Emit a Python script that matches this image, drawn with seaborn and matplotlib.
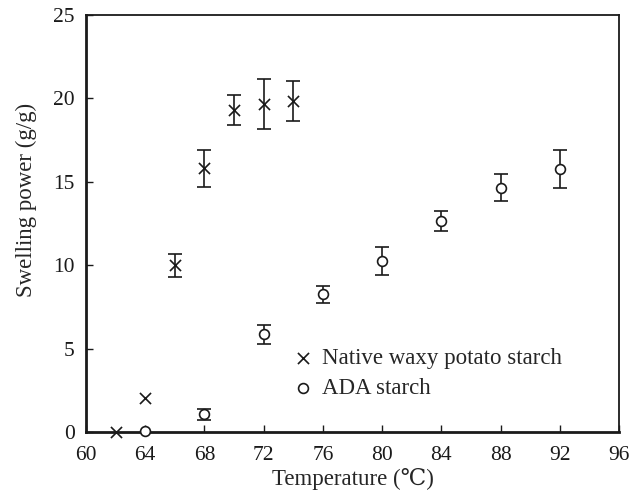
import pandas as pd
import seaborn as sns
import matplotlib.pyplot as plt

native_temp = [62, 64, 66, 68, 70, 72, 74]
native_sp = [0.0, 2.05, 10.0, 15.8, 19.3, 19.65, 19.85]
native_err = [0.0, 0.0, 0.7, 1.1, 0.9, 1.5, 1.2]

ada_temp = [64, 68, 72, 76, 80, 84, 88, 92]
ada_sp = [0.05, 1.05, 5.85, 8.25, 10.25, 12.65, 14.65, 15.75]
ada_err = [0.0, 0.35, 0.55, 0.5, 0.85, 0.6, 0.8, 1.15]

labels = ["Native waxy potato starch", "ADA starch"]

INK = "#1a1a1a"


def main():
    sns.set_style("ticks")
    plt.rcParams["font.family"] = ["Liberation Serif", "DejaVu Serif"]

    native = pd.DataFrame({"Temperature": native_temp, "SP": native_sp, "err": native_err})
    ada = pd.DataFrame({"Temperature": ada_temp, "SP": ada_sp, "err": ada_err})

    fig = plt.figure(figsize=(6.41, 4.94), dpi=100)
    ax = fig.add_axes([0.1342, 0.1255, 0.8315, 0.8441])

    # error bars first (only where there is one), markers on top
    for sub in (native, ada):
        sub = sub[sub["err"] > 0]
        ax.errorbar(sub["Temperature"], sub["SP"], yerr=sub["err"], fmt="none",
                    ecolor=INK, elinewidth=1.2, capsize=5, capthick=1.2, zorder=2)

    sns.scatterplot(data=native, x="Temperature", y="SP", marker="x", color=INK,
                    s=64, linewidth=1.2, ax=ax, zorder=3, clip_on=False, label=labels[0])
    sns.scatterplot(data=ada, x="Temperature", y="SP", marker="o", facecolor="white",
                    edgecolor=INK, s=50, linewidth=1.2, ax=ax, zorder=3,
                    clip_on=False, label=labels[1])

    ax.legend(loc="upper left", bbox_to_anchor=(0.386, 0.201), borderaxespad=0,
              borderpad=0, frameon=False, fontsize=16.5, handlelength=1.0,
              handletextpad=0.3, labelspacing=0.37)

    ax.set_xlim(60, 96)
    ax.set_ylim(0, 25)
    ax.set_xticks(range(60, 97, 4))
    ax.set_yticks(range(0, 26, 5))
    ax.tick_params(direction="in", length=5, width=1, labelsize=15.5, colors=INK,
                   top=False, right=False)
    ax.tick_params(axis="x", pad=10)
    ax.tick_params(axis="y", pad=8)
    for s in ax.spines.values():
        s.set_linewidth(1.3)
        s.set_color(INK)
    ax.spines["left"].set_linewidth(2)
    ax.spines["bottom"].set_linewidth(2)

    ax.set_xlabel("Temperature (℃)", fontsize=16.5, labelpad=2)
    ax.set_ylabel("Swelling power (g/g)", fontsize=16.5)
    ax.yaxis.set_label_coords(-0.092, 0.556)

    fig.savefig("out.png", dpi=100)


if __name__ == "__main__":
    main()
